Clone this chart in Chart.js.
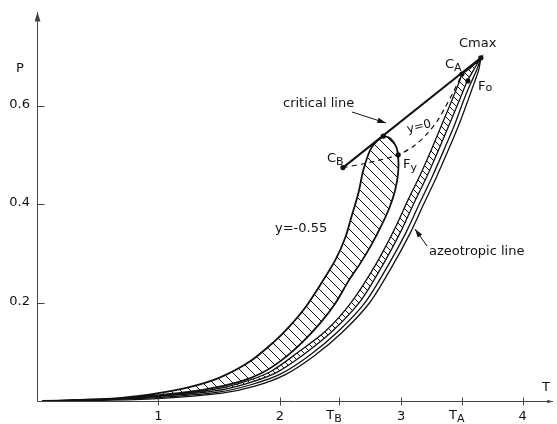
<!DOCTYPE html>
<html lang="en">
<head>
<meta charset="UTF-8" />
<title>Critical and azeotropic lines</title>
<script src="https://cdn.jsdelivr.net/npm/chart.js"></script>
<style>
  html, body { margin: 0; padding: 0; background: #fff; }
  canvas { display: block; }
</style>
</head>
<body>
<canvas id="pt" width="557" height="424"></canvas>
<script>
// y = -0.55 region: outer branch from the origin up to the top of the loop
const loopUpT = [0.041, 0.328, 0.680, 1.000, 1.254, 1.500, 1.746, 1.951, 2.074, 2.213, 2.344, 2.459, 2.541, 2.590, 2.648, 2.689, 2.754, 2.852];
const loopUpP = [0.000, 0.002, 0.006, 0.016, 0.028, 0.047, 0.079, 0.120, 0.150, 0.191, 0.240, 0.287, 0.333, 0.374, 0.423, 0.470, 0.514, 0.537];
// ... and inner branch from the top of the loop back to the origin
const loopDownT = [2.910, 2.959, 2.975, 2.975, 2.951, 2.902, 2.836, 2.754, 2.664, 2.566, 2.459, 2.336, 2.180, 2.016, 1.852, 1.664, 1.377, 1.049, 0.680, 0.328, 0.041];
const loopDownP = [0.533, 0.516, 0.496, 0.465, 0.429, 0.392, 0.356, 0.317, 0.280, 0.244, 0.199, 0.159, 0.118, 0.083, 0.057, 0.039, 0.023, 0.013, 0.005, 0.001, 0.000];

// y = 0 band (ladder hatching), left and right edges, origin -> Cmax
const bandLeftT = [0.041, 0.443, 0.992, 1.418, 1.680, 1.918, 2.156, 2.377, 2.590, 2.787, 2.943, 3.057, 3.156, 3.254, 3.344, 3.426, 3.484, 3.500, 3.578, 3.656];
const bandLeftP = [0.000, 0.003, 0.011, 0.022, 0.037, 0.059, 0.100, 0.142, 0.201, 0.276, 0.348, 0.409, 0.459, 0.514, 0.567, 0.616, 0.652, 0.663, 0.678, 0.697];
const bandRightT = [0.041, 0.443, 0.992, 1.451, 1.721, 1.967, 2.205, 2.434, 2.664, 2.852, 3.000, 3.115, 3.213, 3.311, 3.402, 3.484, 3.541, 3.598, 3.656];
const bandRightP = [0.000, 0.002, 0.009, 0.020, 0.035, 0.057, 0.096, 0.142, 0.203, 0.278, 0.346, 0.407, 0.457, 0.512, 0.565, 0.614, 0.648, 0.673, 0.697];

// azeotropic line (drawn double)
const azeoInT = [0.041, 0.443, 0.992, 1.492, 1.762, 2.008, 2.246, 2.475, 2.705, 2.893, 3.041, 3.156, 3.254, 3.352, 3.443, 3.516, 3.574, 3.623, 3.656];
const azeoInP = [0.000, 0.002, 0.007, 0.018, 0.033, 0.055, 0.093, 0.140, 0.201, 0.276, 0.343, 0.404, 0.455, 0.510, 0.563, 0.612, 0.646, 0.673, 0.697];
const azeoOutT = [0.041, 0.443, 0.992, 1.525, 1.795, 2.041, 2.279, 2.508, 2.738, 2.926, 3.074, 3.189, 3.287, 3.385, 3.475, 3.549, 3.598, 3.639, 3.656];
const azeoOutP = [0.000, 0.001, 0.005, 0.016, 0.030, 0.053, 0.091, 0.138, 0.199, 0.274, 0.341, 0.402, 0.453, 0.508, 0.561, 0.610, 0.644, 0.673, 0.697];

// y = 0 dashed curve from C_B through F_y to C_A
const yZeroT = [2.520, 2.730, 2.975, 3.115, 3.221, 3.303, 3.361, 3.426, 3.500];
const yZeroP = [0.474, 0.484, 0.500, 0.520, 0.545, 0.571, 0.596, 0.626, 0.663];

// marked points: C_B, loop top, F_y, C_A, F_o, C_max
const markT = [2.520, 2.852, 2.975, 3.500, 3.549, 3.656];
const markP = [0.474, 0.538, 0.500, 0.664, 0.650, 0.697];

// critical line runs straight from C_B to C_max
const critT = [2.520, 3.656];
const critP = [0.474, 0.697];

const xTicks = [1, 2, 2.49, 3, 3.5, 4];
const xTickLabels = [['1'], ['2'], ['T', 'B'], ['3'], ['T', 'A'], ['4']];
const yTicks = [0.2, 0.4, 0.6];
const yTickLabels = ['0.2', '0.4', '0.6'];

const FONT = '"DejaVu Sans", sans-serif';
const INK = '#111';

const pts = (ts, ps) => ts.map((t, i) => ({ x: t, y: ps[i] }));

function hatch(step) {
  const c = document.createElement('canvas');
  c.width = c.height = step;
  const g = c.getContext('2d');
  g.strokeStyle = INK;
  g.lineWidth = 1;
  g.beginPath();
  g.moveTo(-1, -1); g.lineTo(step + 1, step + 1);
  g.moveTo(step - 1, -1); g.lineTo(step + 1, 1);
  g.moveTo(-1, step - 1); g.lineTo(1, step + 1);
  g.stroke();
  return g.createPattern(c, 'repeat');
}

function subText(ctx, main, s, x, y, drop) {
  ctx.font = '13px ' + FONT;
  ctx.textAlign = 'left';
  ctx.textBaseline = 'alphabetic';
  ctx.fillText(main, x, y);
  const w = ctx.measureText(main).width;
  ctx.font = '11px ' + FONT;
  ctx.fillText(s, x + w, y + drop);
  return w + ctx.measureText(s).width;
}

function arrow(ctx, x1, y1, x2, y2, head) {
  const a = Math.atan2(y2 - y1, x2 - x1);
  ctx.beginPath();
  ctx.moveTo(x1, y1);
  ctx.lineTo(x2, y2);
  ctx.stroke();
  ctx.beginPath();
  ctx.moveTo(x2, y2);
  ctx.lineTo(x2 - head * Math.cos(a - 0.3), y2 - head * Math.sin(a - 0.3));
  ctx.lineTo(x2 - head * Math.cos(a + 0.3), y2 - head * Math.sin(a + 0.3));
  ctx.closePath();
  ctx.fill();
}

// axes, ticks and all lettering
const frame = {
  id: 'frame',
  afterDraw(chart) {
    const { ctx, scales: { x, y } } = chart;
    const x0 = Math.round(x.getPixelForValue(0)) + 0.5;
    const y0 = Math.round(y.getPixelForValue(0)) + 0.5;
    ctx.save();
    ctx.strokeStyle = '#444';
    ctx.fillStyle = '#444';
    ctx.lineWidth = 1;
    arrow(ctx, x0, y0, x0, y.top, 10);
    arrow(ctx, x0, y0, x.right, y0, 6);

    yTicks.forEach(v => {
      const py = Math.round(y.getPixelForValue(v)) + 0.5;
      ctx.beginPath(); ctx.moveTo(x0, py); ctx.lineTo(x0 + 7, py); ctx.stroke();
    });
    xTicks.forEach(v => {
      const px = Math.round(x.getPixelForValue(v)) + 0.5;
      ctx.beginPath(); ctx.moveTo(px, y0 - 4); ctx.lineTo(px, y0 + 4); ctx.stroke();
    });

    ctx.fillStyle = INK;
    ctx.font = '13px ' + FONT;
    ctx.textAlign = 'right';
    ctx.textBaseline = 'middle';
    yTicks.forEach((v, i) => ctx.fillText(yTickLabels[i], 30, y.getPixelForValue(v) - 1));

    xTicks.forEach((v, i) => {
      const px = x.getPixelForValue(v);
      const lab = xTickLabels[i];
      if (lab.length === 1) {
        ctx.font = '13px ' + FONT;
        ctx.textAlign = 'center';
        ctx.textBaseline = 'alphabetic';
        ctx.fillText(lab[0], px, 420);
      } else {
        subText(ctx, lab[0], lab[1], px - 13, 419, 3);
      }
    });

    ctx.font = '13px ' + FONT;
    ctx.textAlign = 'left';
    ctx.textBaseline = 'alphabetic';
    ctx.fillText('P', 16, 72);
    ctx.fillText('T', 542, 391);
    ctx.fillText('Cmax', 459, 47);
    ctx.fillText('critical line', 283, 107);
    ctx.fillText('y=-0.55', 275, 232);
    ctx.fillText('azeotropic line', 429, 255);

    subText(ctx, 'C', 'A', 445, 68, 3);
    subText(ctx, 'F', 'o', 478, 90, 1);
    subText(ctx, 'C', 'B', 327, 162, 3);
    subText(ctx, 'F', 'y', 403, 168, 3);

    ctx.save();
    ctx.translate(408, 133);
    ctx.rotate(-0.25);
    ctx.font = '12px ' + FONT;
    ctx.fillText('y=0', 0, 0);
    ctx.restore();

    ctx.strokeStyle = INK;
    ctx.fillStyle = INK;
    arrow(ctx, 352, 112, 386, 123, 9);
    arrow(ctx, 427, 246, 415, 229, 9);
    ctx.restore();
  }
};

const ctx = document.getElementById('pt').getContext('2d');

new Chart(ctx, {
  type: 'line',
  data: {
    datasets: [
      {
        data: pts(loopUpT.concat(loopDownT), loopUpP.concat(loopDownP)),
        borderColor: INK, borderWidth: 1.8,
        fill: 'shape', backgroundColor: hatch(10),
        tension: 0.3
      },
      {
        data: pts(bandLeftT.concat(bandRightT.slice().reverse()), bandLeftP.concat(bandRightP.slice().reverse())),
        borderColor: INK, borderWidth: 1.3,
        fill: 'shape', backgroundColor: hatch(7),
        tension: 0.3
      },
      { data: pts(azeoInT, azeoInP), borderColor: INK, borderWidth: 1.3, tension: 0.3, fill: false },
      { data: pts(azeoOutT, azeoOutP), borderColor: INK, borderWidth: 1.3, tension: 0.3, fill: false },
      { data: pts(yZeroT, yZeroP), borderColor: INK, borderWidth: 1.2, borderDash: [5, 4], tension: 0.3, fill: false },
      { data: pts(critT, critP), borderColor: INK, borderWidth: 2, tension: 0, fill: false },
      {
        data: pts(markT, markP), showLine: false, fill: false,
        pointRadius: 2.6, pointBackgroundColor: INK, pointBorderWidth: 0
      }
    ]
  },
  options: {
    responsive: false,
    animation: false,
    devicePixelRatio: 1,
    layout: { padding: { left: 37, right: 1.5, top: 12, bottom: 23 } },
    elements: { point: { radius: 0 }, line: { capBezierPoints: true } },
    datasets: { line: { clip: false } },
    scales: {
      x: { type: 'linear', min: 0, max: 4.25, display: false },
      y: { type: 'linear', min: 0, max: 0.79, display: false }
    },
    plugins: { legend: { display: false }, tooltip: { enabled: false } }
  },
  plugins: [frame]
});
</script>
</body>
</html>
